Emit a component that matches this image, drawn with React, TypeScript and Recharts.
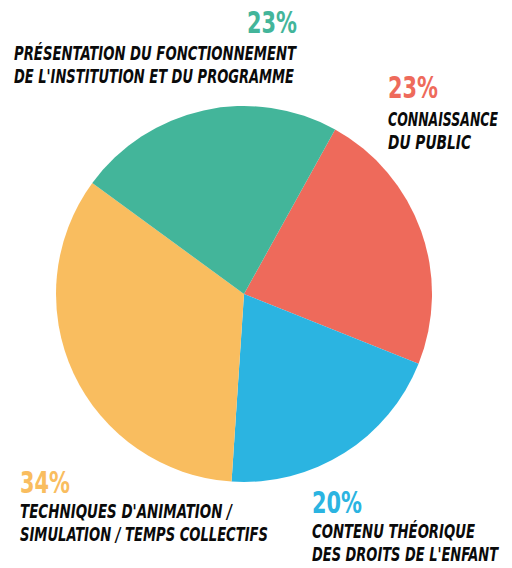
import { PieChart, Pie, Cell, Customized } from "recharts";

// slices clockwise, starting at the green/red boundary
const themes = [
  "Connaissance du public",
  "Contenu théorique des droits de l'enfant",
  "Techniques d'animation / simulation / temps collectifs",
  "Présentation du fonctionnement de l'institution et du programme",
];
const parts = [23, 20, 34, 23];
const labelLines = [
  ["CONNAISSANCE", "DU PUBLIC"],
  ["CONTENU THÉORIQUE", "DES DROITS DE L'ENFANT"],
  ["TECHNIQUES D'ANIMATION /", "SIMULATION / TEMPS COLLECTIFS"],
  ["PRÉSENTATION DU FONCTIONNEMENT", "DE L'INSTITUTION ET DU PROGRAMME"],
];
const colors = ["#ee6a5b", "#2bb4e1", "#f9bd5f", "#43b59a"];

// where each label block sits (x, baseline of the %, width of lines, % anchor)
const labelPos = [
  { x: 388, y: 98, pctX: 388, anchor: "start", gap: 28, widths: [110, 83] },
  { x: 312, y: 513, pctX: 312, anchor: "start", gap: 25, widths: [163, 186] },
  { x: 20, y: 493, pctX: 20, anchor: "start", gap: 25, widths: [212, 248] },
  { x: 14, y: 33, pctX: 297, anchor: "end", gap: 27, widths: [282, 280] },
];

const data = themes.map((t, i) => ({ name: t, value: parts[i] }));

const font = "'Liberation Sans Narrow', 'DejaVu Sans Condensed', 'Roboto', sans-serif";

function Labels() {
  return (
    <g>
      {labelPos.map((p, i) => (
        <g key={i}>
          <text
            x={p.pctX}
            y={p.y}
            textAnchor={p.anchor as "start" | "end"}
            fill={colors[i]}
            fontFamily={font}
            fontSize={31}
            fontWeight={600}
            textLength={50}
            lengthAdjust="spacingAndGlyphs"
          >
            {parts[i]}%
          </text>
          {labelLines[i].map((line, j) => (
            <text
              key={j}
              x={p.x}
              y={p.y + p.gap + j * 23}
              fill="#0a0a0a"
              fontFamily={font}
              fontSize={19}
              fontWeight={900}
              fontStyle="italic"
              textLength={p.widths[j]}
              lengthAdjust="spacingAndGlyphs"
            >
              {line}
            </text>
          ))}
        </g>
      ))}
    </g>
  );
}

export default function App() {
  return (
    <div style={{ position: "absolute", left: 0, top: 0 }}>
      <PieChart width={512} height={568} margin={{ top: 0, right: 0, bottom: 0, left: 0 }}>
        <Pie
          data={data}
          dataKey="value"
          nameKey="name"
          cx={244}
          cy={294}
          outerRadius={188}
          startAngle={61}
          endAngle={-299}
          stroke="none"
          isAnimationActive={false}
        >
          {data.map((d, i) => (
            <Cell key={d.name} fill={colors[i]} />
          ))}
        </Pie>
        <Customized component={Labels} />
      </PieChart>
    </div>
  );
}
